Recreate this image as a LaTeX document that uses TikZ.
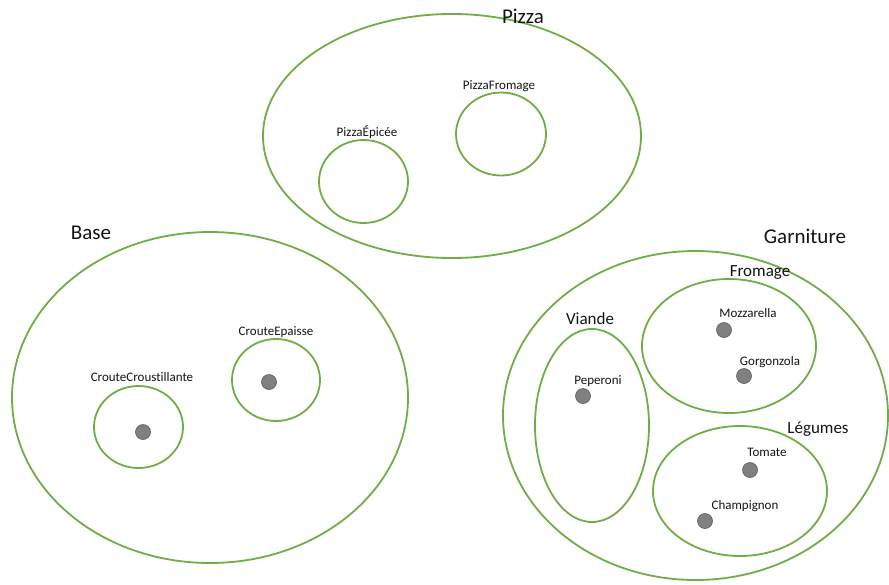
\documentclass[tikz,border=0pt]{standalone}
\usepackage{fontspec}
\setmainfont{Carlito}[Ligatures=NoCommon]
\usetikzlibrary{shapes.geometric}
\definecolor{setgreen}{RGB}{112,173,71}
\definecolor{dotfill}{RGB}{128,128,128}
\definecolor{dotline}{RGB}{90,90,90}
\definecolor{labelink}{RGB}{20,20,20}
\tikzset{
  setshape/.style={ellipse, draw=setgreen, line width=1.8pt, inner sep=0pt},
  member/.style={circle, draw=dotline, fill=dotfill, line width=0.6pt, minimum size=15pt, inner sep=0pt},
  biglabel/.style={font=\fontsize{21}{24}\selectfont, text=labelink, inner sep=0pt},
  midlabel/.style={font=\fontsize{17}{20}\selectfont, text=labelink, inner sep=0pt},
  smalllabel/.style={font=\fontsize{13}{15}\selectfont, text=labelink, inner sep=0pt}
}
\begin{document}
\begin{tikzpicture}[x=1pt,y=-1pt]
\useasboundingbox (0,0) rectangle (889,584);

% Pizza
\node[setshape, minimum width=378pt, minimum height=244pt] (pizza) at (452,136) {};
\node[biglabel] (pizzaT) at (523,16) {Pizza};
\node[setshape, minimum width=89pt, minimum height=83pt] (epicee) at (363.5,181.5) {};
\node[smalllabel] (epiceeT) at (367,132) {PizzaÉpicée};
\node[setshape, minimum width=90pt, minimum height=83pt] (pfromage) at (501,134) {};
\node[smalllabel] (pfromageT) at (499,86) {PizzaFromage};

% Base
\node[setshape, minimum width=396pt, minimum height=331pt] (base) at (210,397.5) {};
\node[biglabel] (baseT) at (91,233) {Base};
\node[setshape, minimum width=89pt, minimum height=82pt] (croust) at (138.5,427) {};
\node[smalllabel] (croustT) at (142,377) {CrouteCroustillante};
\node[member] (croustD) at (143,432) {};
\node[setshape, minimum width=88pt, minimum height=82pt] (epaisse) at (276,380) {};
\node[smalllabel] (epaisseT) at (276,332) {CrouteEpaisse};
\node[member] (epaisseD) at (269,382) {};

% Garniture
\node[setshape, minimum width=385pt, minimum height=329pt] (garn) at (695.5,415.5) {};
\node[biglabel] (garnT) at (805,236) {Garniture};

\node[setshape, minimum width=174pt, minimum height=134pt] (fromage) at (729,346) {};
\node[midlabel] (fromageT) at (760,273) {Fromage};
\node[member] (mozzD) at (724,330) {};
\node[smalllabel] (mozzT) at (748,313) {Mozzarella};
\node[member] (gorgD) at (744,376) {};
\node[smalllabel] (gorgT) at (770,362) {Gorgonzola};

\node[setshape, minimum width=114pt, minimum height=193pt] (viande) at (592,425.5) {};
\node[midlabel] (viandeT) at (590,319) {Viande};
\node[member] (pepD) at (583,396) {};
\node[smalllabel] (pepT) at (598,381) {Peperoni};

\node[setshape, minimum width=174pt, minimum height=130pt] (legumes) at (740,491) {};
\node[midlabel] (legumesT) at (818,429) {Légumes};
\node[member] (tomD) at (750,470) {};
\node[smalllabel] (tomT) at (767,452) {Tomate};
\node[member] (champD) at (705,521) {};
\node[smalllabel] (champT) at (745,506) {Champignon};
\end{tikzpicture}
\end{document}
